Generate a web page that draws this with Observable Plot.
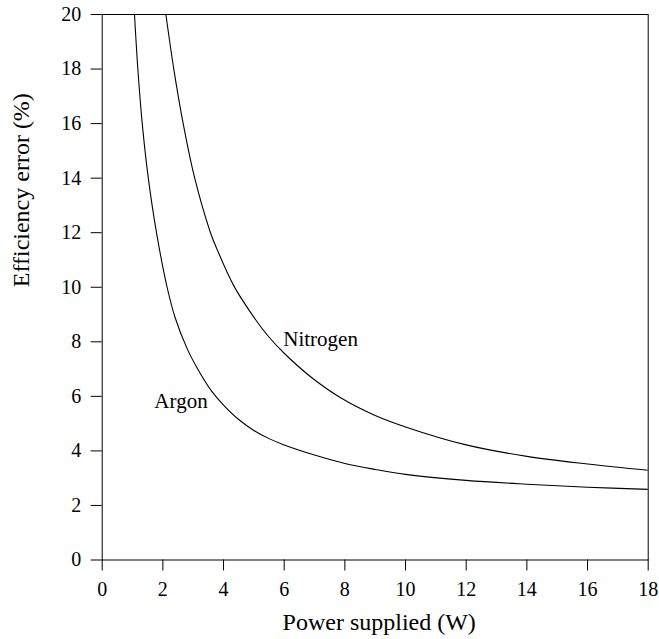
<!DOCTYPE html>
<html>
<head>
<meta charset="utf-8">
<script src="https://cdn.jsdelivr.net/npm/d3@7"></script>
<script src="https://cdn.jsdelivr.net/npm/@observablehq/plot@0.6"></script>
<style>
  html, body { margin: 0; padding: 0; background: #fff; }
  svg { display: block; }
</style>
</head>
<body>
<div id="chart"></div>
<script>
// Argon series: power supplied (W) vs efficiency error (%)
const argonPower = [1.065, 1.175, 1.32, 1.52, 1.79, 2.14, 2.4, 2.8, 3.2, 3.6, 4.0, 4.5, 5.0, 5.5, 6.0, 7.0, 8.0, 9.0, 10.0, 12.0, 14.0, 16.0, 18.0];
const argonError = [20, 18, 16, 14, 12, 10, 8.9, 7.75, 6.9, 6.2, 5.68, 5.15, 4.75, 4.45, 4.22, 3.85, 3.54, 3.32, 3.14, 2.92, 2.78, 2.67, 2.59];

// Nitrogen series
const nitrogenPower = [2.10, 2.36, 2.67, 3.05, 3.57, 3.79, 4.34, 4.89, 5.44, 6.0, 6.87, 7.86, 9.0, 10.0, 12.0, 14.0, 16.0, 18.0];
const nitrogenError = [20, 18, 16, 14, 12, 11.38, 10.05, 9.08, 8.25, 7.58, 6.72, 5.95, 5.3, 4.88, 4.22, 3.8, 3.52, 3.29];

// Series labels and where they sit (data coordinates, left/baseline of text)
const seriesNames = ["Argon", "Nitrogen"];
const labelPower = [1.72, 5.97];
const labelError = [5.58, 7.86];

// Tick labels
const xTicks = [0, 2, 4, 6, 8, 10, 12, 14, 16, 18];
const yTicks = [0, 2, 4, 6, 8, 10, 12, 14, 16, 18, 20];

const xTitle = "Power supplied (W)";
const yTitle = "Efficiency error (%)";

const rows = [
  ...argonPower.map((p, i) => ({series: "Argon", power: p, error: argonError[i]})),
  ...nitrogenPower.map((p, i) => ({series: "Nitrogen", power: p, error: nitrogenError[i]}))
];
const labelRows = seriesNames.map((name, i) => ({name, power: labelPower[i], error: labelError[i]}));

const font = "Liberation Serif";

const chart = Plot.plot({
  width: 659,
  height: 639,
  marginLeft: 101.7,
  marginRight: 11.3,
  marginTop: 14,
  marginBottom: 79.5,
  style: {color: "#000", background: "#fff", overflow: "visible", fontFamily: font},
  x: {domain: [0, 18]},
  y: {domain: [0, 20]},
  marks: [
    Plot.axisX({ticks: xTicks, tickSize: 11, tickPadding: 11, fontSize: 20, fontFamily: font, label: null, tickFormat: d => String(d)}),
    Plot.axisY({ticks: yTicks, tickSize: 11, tickPadding: 10, fontSize: 20, fontFamily: font, label: null, tickFormat: d => String(d)}),
    Plot.line(rows, {x: "power", y: "error", z: "series", stroke: "#000", strokeWidth: 1.1, curve: "catmull-rom", clip: true}),
    Plot.text(labelRows, {x: "power", y: "error", text: "name", textAnchor: "start", lineAnchor: "bottom", fontSize: 21, fontFamily: font, fill: "#000"}),
    Plot.text([xTitle], {frameAnchor: "bottom", dy: 70, dx: 4, lineAnchor: "bottom", fontSize: 24, fontFamily: font, fill: "#000"}),
    Plot.text([yTitle], {frameAnchor: "left", rotate: -90, dx: -73.4, lineAnchor: "bottom", fontSize: 24, fontFamily: font, fill: "#000"}),
    Plot.frame({stroke: "#000", strokeWidth: 1})
  ]
});

document.getElementById("chart").appendChild(chart);
</script>
</body>
</html>
